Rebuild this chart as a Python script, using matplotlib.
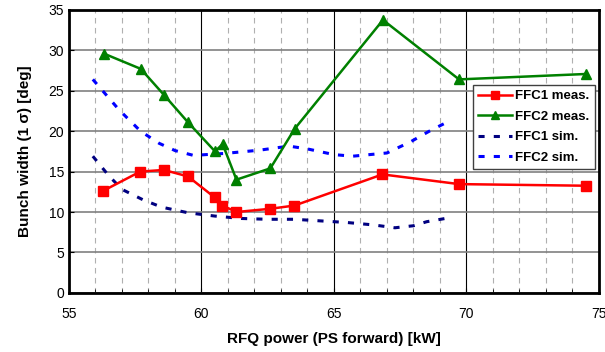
import numpy as np
import matplotlib
matplotlib.use('Agg')
import matplotlib.pyplot as plt
from matplotlib.ticker import MultipleLocator

plt.rcParams['font.family'] = ['Liberation Sans', 'DejaVu Sans']

# measured points
ffc1_x = [56.28, 57.69, 58.58, 59.49, 60.50, 60.79, 61.32, 62.60, 63.51, 66.83, 69.72, 74.50]
ffc1_y = [12.6, 15.0, 15.2, 14.4, 11.8, 10.8, 10.0, 10.4, 10.8, 14.65, 13.45, 13.25]
ffc2_x = [56.31, 57.71, 58.58, 59.49, 60.51, 60.80, 61.32, 62.60, 63.52, 66.85, 69.72, 74.52]
ffc2_y = [29.6, 27.7, 24.5, 21.1, 17.5, 18.4, 14.0, 15.4, 20.3, 33.75, 26.4, 27.07]

# simulation curves
sim1_x = [55.9, 56.5, 57.0, 57.8, 58.5, 59.5, 60.5, 61.5, 62.5, 63.5, 64.5, 65.5, 66.5, 67.3, 68.0, 68.5, 69.2]
sim1_y = [16.9, 14.5, 12.8, 11.5, 10.6, 9.9, 9.5, 9.2, 9.1, 9.1, 8.9, 8.7, 8.4, 8.05, 8.3, 8.8, 9.2]
sim2_x = [55.9, 56.9, 57.7, 58.4, 59.0, 59.7, 60.9, 62.2, 63.3, 64.0, 65.0, 65.7, 67.0, 67.9, 68.6, 69.2]
sim2_y = [26.4, 22.6, 20.0, 18.5, 17.6, 17.0, 17.25, 17.65, 18.15, 17.8, 17.1, 16.9, 17.3, 18.7, 20.0, 21.0]

fig = plt.figure(figsize=(6.05, 3.52), dpi=100)
ax = fig.add_axes([0.114, 0.168, 0.876, 0.804])

ax.plot(sim1_x, sim1_y, color='#000080', ls=(0, (2, 3)), lw=2.2, label='FFC1 sim.', zorder=3)
ax.plot(sim2_x, sim2_y, color='#0000ff', ls=(0, (2, 3)), lw=2.2, label='FFC2 sim.', zorder=3)
ax.plot(ffc1_x, ffc1_y, color='#ff0000', marker='s', ms=7, lw=1.8, label='FFC1 meas.', zorder=4)
ax.plot(ffc2_x, ffc2_y, color='#008000', marker='^', ms=7, lw=1.8, label='FFC2 meas.', zorder=4)

ax.set_xlim(55, 75)
ax.set_ylim(0, 35)
ax.xaxis.set_major_locator(MultipleLocator(5))
ax.xaxis.set_minor_locator(MultipleLocator(1))
ax.yaxis.set_major_locator(MultipleLocator(5))

ax.grid(axis='y', which='major', color='#808080', lw=1.2)
ax.grid(axis='x', which='major', color='black', lw=0.8)
ax.grid(axis='x', which='minor', color='#b0b0b0', lw=0.8, ls=(0, (5, 4)))
ax.set_axisbelow(True)

for s in ax.spines.values():
    s.set_linewidth(2)
ax.tick_params(which='both', direction='in', labelsize=10)
ax.tick_params(axis='x', which='major', pad=10)
ax.tick_params(which='minor', length=3)

ax.set_xlabel('RFQ power (PS forward) [kW]', fontsize=11, fontweight='bold', labelpad=8)
ax.set_ylabel('Bunch width (1 σ) [deg]', fontsize=11, fontweight='bold', labelpad=12)

h, l = ax.get_legend_handles_labels()
order = [2, 3, 0, 1]
leg = ax.legend([h[i] for i in order], [l[i] for i in order], loc='upper left',
                bbox_to_anchor=(0.762, 0.735), fancybox=False, framealpha=1,
                edgecolor='#404040', prop={'weight': 'bold', 'size': 9.5},
                handlelength=2.6, borderpad=0.4, labelspacing=0.62, handletextpad=0.2,
                borderaxespad=0, markerscale=0.85)
leg.get_frame().set_linewidth(1)

fig.savefig('out.png', dpi=100)
